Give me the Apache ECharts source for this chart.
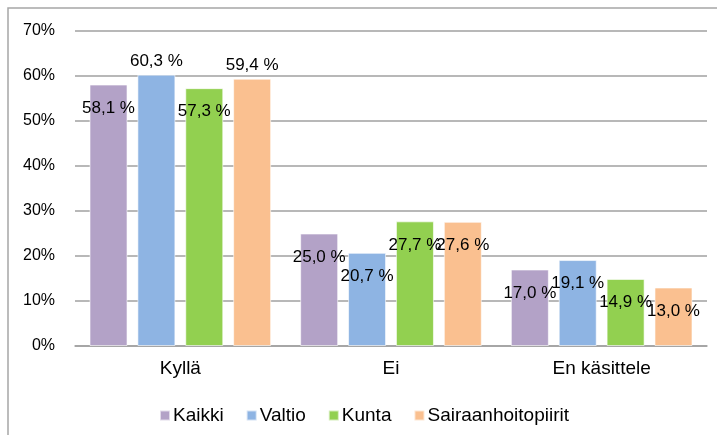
<!DOCTYPE html>
<html>
<head>
<meta charset="UTF-8"/>
<title></title>
<script src="https://cdn.jsdelivr.net/npm/echarts@6/dist/echarts.min.js" type="text/javascript"></script>
<style>
	html, body { margin: 0; padding: 0; background: #fff; }
	#chart { width: 717px; height: 435px; }
</style>
</head>
<body>
<div id="chart"></div>
<script type="text/javascript">
	var categories = ['Kyllä', 'Ei', 'En käsittele'];
	var seriesNames = ['Kaikki', 'Valtio', 'Kunta', 'Sairaanhoitopiirit'];
	var kaikki = [58.1, 25.0, 17.0];
	var valtio = [60.3, 20.7, 19.1];
	var kunta = [57.3, 27.7, 14.9];
	var sairaanhoitopiirit = [59.4, 27.6, 13.0];
	var yTicks = [0, 10, 20, 30, 40, 50, 60, 70];

	var colors = ['#b3a2c7', '#8eb4e3', '#92d050', '#fac090'];
	// labels drawn above the bar instead of inside it
	var labelAbove = { 1: [0], 3: [0] };
	var font = 'Liberation Sans, Arial, sans-serif';

	function fmt(v) {
		return v.toFixed(1).replace('.', ',') + ' %';
	}

	var values = [kaikki, valtio, kunta, sairaanhoitopiirit];
	var series = [];
	for (var i = 0; i < values.length; i++) {
		var data = [];
		for (var j = 0; j < values[i].length; j++) {
			var above = labelAbove[i] && labelAbove[i].indexOf(j) >= 0;
			data.push({
				value: values[i][j],
				label: above ? { position: 'top', distance: 5, offset: [0, 0] }
				             : { position: 'insideTop', distance: 5, offset: [0, 10] }
			});
		}
		series.push({
			name: seriesNames[i],
			type: 'bar',
			barWidth: 38,
			barGap: '26%',
			itemStyle: { color: colors[i], borderColor: 'rgba(255,255,255,0.6)', borderWidth: 1 },
			label: {
				show: true,
				color: '#000',
				fontSize: 17,
				fontFamily: font,
				formatter: function (p) { return fmt(p.value); }
			},
			data: data
		});
	}

	var myChart = echarts.init(document.getElementById('chart'));
	var option = {
		animation: false,
		backgroundColor: '#fff',
		grid: { left: 75, right: 10, top: 31, bottom: 89 },
		graphic: [{
			type: 'rect',
			shape: { x: 8, y: 8, width: 720, height: 440 },
			style: { fill: 'none', stroke: '#a6a6a6', lineWidth: 1.5 },
			silent: true
		}],
		legend: {
			left: 154,
			top: 401,
			icon: 'rect',
			itemWidth: 10,
			itemHeight: 10,
			itemGap: 22,
			textStyle: { fontSize: 19, fontFamily: font, color: '#000', padding: [0, 0, 0, -2] },
			data: seriesNames
		},
		xAxis: {
			type: 'category',
			data: categories,
			axisTick: { show: false },
			axisLine: { lineStyle: { color: '#a0a0a0', width: 1.5 } },
			axisLabel: { fontSize: 19, fontFamily: font, color: '#000', margin: 13 }
		},
		yAxis: {
			type: 'value',
			min: yTicks[0],
			max: yTicks[yTicks.length - 1],
			interval: yTicks[1] - yTicks[0],
			axisLine: { show: false },
			axisTick: { show: false },
			splitLine: { lineStyle: { color: '#a0a0a0', width: 1.5 } },
			axisLabel: { fontSize: 16, fontFamily: font, color: '#000', margin: 20, formatter: '{value}%' }
		},
		series: series
	};
	myChart.setOption(option);
</script>
</body>
</html>
